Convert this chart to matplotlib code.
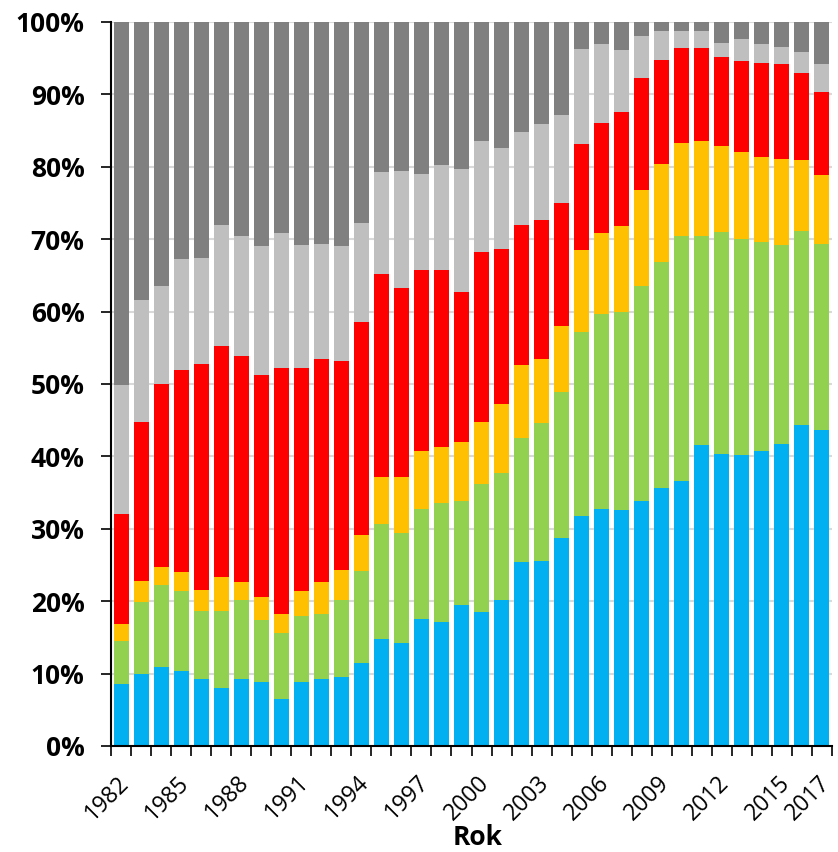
import matplotlib.pyplot as plt
import matplotlib.transforms as mtransforms
import numpy as np
from matplotlib.ticker import FixedLocator, PercentFormatter

years = list(range(1982, 2018))

# shares (%) per year, bottom to top
blue = [8.6, 10.0, 10.9, 10.3, 9.3, 8.0, 9.2, 8.8, 6.5, 8.8, 9.3, 9.5,
        11.5, 14.8, 14.2, 17.5, 17.1, 19.5, 18.5, 20.2, 25.4, 25.6, 28.7, 31.7,
        32.7, 32.6, 33.9, 35.7, 36.6, 41.6, 40.3, 40.2, 40.7, 41.7, 44.3, 43.7]
green = [5.9, 9.9, 11.3, 11.1, 9.3, 10.6, 10.9, 8.6, 9.1, 9.2, 8.9, 10.7,
         12.7, 15.9, 15.2, 15.2, 16.5, 14.3, 17.7, 17.5, 17.1, 19.0, 20.2, 25.5,
         27.0, 27.4, 29.7, 31.1, 33.8, 28.9, 30.7, 29.8, 28.9, 27.5, 26.8, 25.6]
orange = [2.3, 2.9, 2.5, 2.7, 3.0, 4.8, 2.5, 3.2, 2.7, 3.4, 4.4, 4.1,
          4.9, 6.5, 7.7, 8.1, 7.7, 8.2, 8.6, 9.5, 10.1, 8.9, 9.1, 11.3,
          11.1, 11.8, 13.2, 13.6, 12.9, 13.1, 11.9, 12.1, 11.7, 11.9, 9.9, 9.5]
red = [15.2, 22.0, 25.3, 27.8, 31.2, 31.9, 31.3, 30.7, 33.9, 30.8, 30.8, 28.9,
       29.4, 28.0, 26.2, 24.9, 24.4, 20.7, 23.4, 21.5, 19.3, 19.2, 17.0, 14.6,
       15.2, 15.7, 15.4, 14.4, 13.1, 12.8, 12.3, 12.5, 13.1, 13.1, 12.0, 11.5]
light = [17.9, 16.8, 13.6, 15.4, 14.6, 16.6, 16.6, 17.7, 18.7, 17.0, 16.0, 15.8,
         13.7, 14.1, 16.1, 13.3, 14.5, 17.0, 15.4, 13.9, 12.9, 13.2, 12.2, 13.2,
         10.9, 8.6, 5.8, 3.9, 2.4, 2.3, 1.9, 3.0, 2.6, 2.4, 2.8, 3.9]
dark = [50.1, 38.4, 36.4, 32.7, 32.6, 28.1, 29.5, 31.0, 29.1, 30.8, 30.6, 31.0,
        27.8, 20.7, 20.6, 21.0, 19.8, 20.3, 16.4, 17.4, 15.2, 14.1, 12.8, 3.7,
        3.1, 3.9, 2.0, 1.3, 1.2, 1.3, 2.9, 2.4, 3.0, 3.4, 4.2, 5.8]

series = [blue, green, orange, red, light, dark]
colors = ['#00B0F0', '#92D050', '#FFC000', '#FF0000', '#BFBFBF', '#808080']

label_years = [1982, 1985, 1988, 1991, 1994, 1997, 2000, 2003, 2006, 2009, 2012, 2015, 2017]

fig = plt.figure(figsize=(8.38, 8.52), dpi=100)
ax = fig.add_axes([111 / 838, 1 - 746 / 852, 721 / 838, 724 / 852])

x = np.arange(len(years))
bottom = np.zeros(len(years))
for vals, c in zip(series, colors):
    ax.bar(x, vals, 0.75, bottom=bottom, color=c, zorder=2)
    bottom += np.array(vals)

ax.set_xlim(-0.5, len(years) - 0.5)
ax.set_ylim(0, 100)
ax.set_yticks(np.arange(0, 101, 10))
ax.yaxis.set_major_formatter(PercentFormatter(decimals=0))
ax.grid(axis='y', color='#D9D9D9', linewidth=1.5, zorder=0)
ax.set_axisbelow(True)

for s in ['top', 'right']:
    ax.spines[s].set_visible(False)
for s in ['left', 'bottom']:
    ax.spines[s].set_linewidth(1.5)

ax.set_xticks([years.index(y) for y in label_years])
ax.set_xticklabels([str(y) for y in label_years], rotation=45, ha='right',
                   rotation_mode='anchor', fontsize=16.5, family='Open Sans')
ax.tick_params(axis='x', which='major', length=0, pad=18)
shift = mtransforms.ScaledTranslation(-3 / 72, 0, fig.dpi_scale_trans)
for lab in ax.get_xticklabels():
    lab.set_transform(lab.get_transform() + shift)
ax.xaxis.set_minor_locator(FixedLocator(np.arange(-0.5, len(years), 1)))
ax.tick_params(axis='x', which='minor', length=7, width=1.2)
ax.tick_params(axis='y', length=7, width=1.2, labelsize=19, pad=12)
for lab in ax.get_yticklabels():
    lab.set_fontweight('bold')
    lab.set_family('Open Sans')

ax.set_xlabel('Rok', fontsize=19, fontweight='bold', family='Open Sans', va='center')
ax.xaxis.set_label_coords(0.509, -0.127)

fig.savefig('out.png', dpi=100)
